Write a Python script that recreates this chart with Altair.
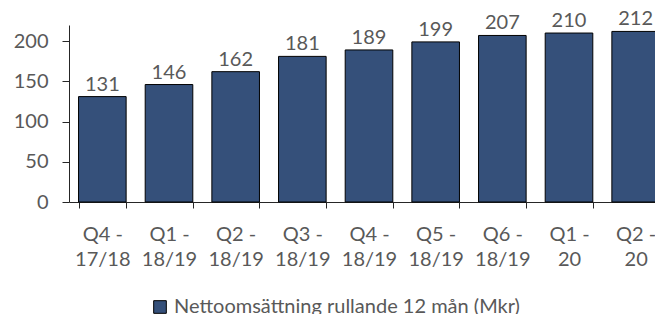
import altair as alt
import pandas as pd

quarters = ["Q4 - 17/18", "Q1 - 18/19", "Q2 - 18/19", "Q3 - 18/19", "Q4 - 18/19",
            "Q5 - 18/19", "Q6 - 18/19", "Q1 - 20", "Q2 - 20"]
values = [131, 146, 162, 181, 189, 199, 207, 210, 212]
series_name = "Nettoomsättning rullande 12 mån (Mkr)"

df = pd.DataFrame({"q": quarters, "v": values, "s": [series_name] * len(values)})

FONT = "Lato"
TXT = "#595959"
BAR = "#35507a"
FS = 20

x = alt.X("q:N", sort=quarters, title=None,
          scale=alt.Scale(paddingInner=0.286, paddingOuter=0.143, range=[0, 600]),
          axis=alt.Axis(labelAngle=0, tickBand="extent",
                        labelExpr="datum.label ? [split(datum.label, ' ')[0] + ' -', split(datum.label, ' ')[2]] : ''",
                        labelFont=FONT, labelFontSize=FS, labelColor=TXT, labelPadding=16,
                        labelLineHeight=25, tickSize=6, tickColor="#262626",
                        domainColor="#262626", labelBaseline="top"))

bars = alt.Chart(df).mark_bar(stroke="#000000", strokeWidth=1, color=BAR).encode(
    x=x,
    y=alt.Y("v:Q", title=None,
            scale=alt.Scale(domain=[0, 220], nice=False),
            axis=alt.Axis(values=[0, 50, 100, 150, 200], grid=False, labelFont=FONT,
                          labelFontSize=FS, labelColor=TXT, tickSize=7, labelPadding=14,
                          tickColor="#262626", domainColor="#262626")),
    fill=alt.Fill("s:N", title=None,
                  scale=alt.Scale(range=[BAR]),
                  legend=alt.Legend(orient="none", legendX=81, legendY=272, symbolType="square",
                                    symbolSize=160, symbolStrokeColor="#000000", symbolStrokeWidth=1,
                                    labelFont=FONT, labelFontSize=FS, labelColor=TXT,
                                    labelLimit=600)),
)

labels = alt.Chart(df).mark_text(dy=-6, baseline="alphabetic", font=FONT, fontSize=FS, color=TXT).encode(
    x=alt.X("q:N", sort=quarters),
    y="v:Q",
    text="v:Q",
)

chart = (bars + labels).properties(
    width=586, height=177,
    autosize=alt.AutoSizeParams(type="none"),
    padding={"left": 61, "top": 17, "right": 0, "bottom": 112},
).configure_view(stroke=None)

chart.save("out.html", embed_options={"renderer": "svg", "actions": False})
